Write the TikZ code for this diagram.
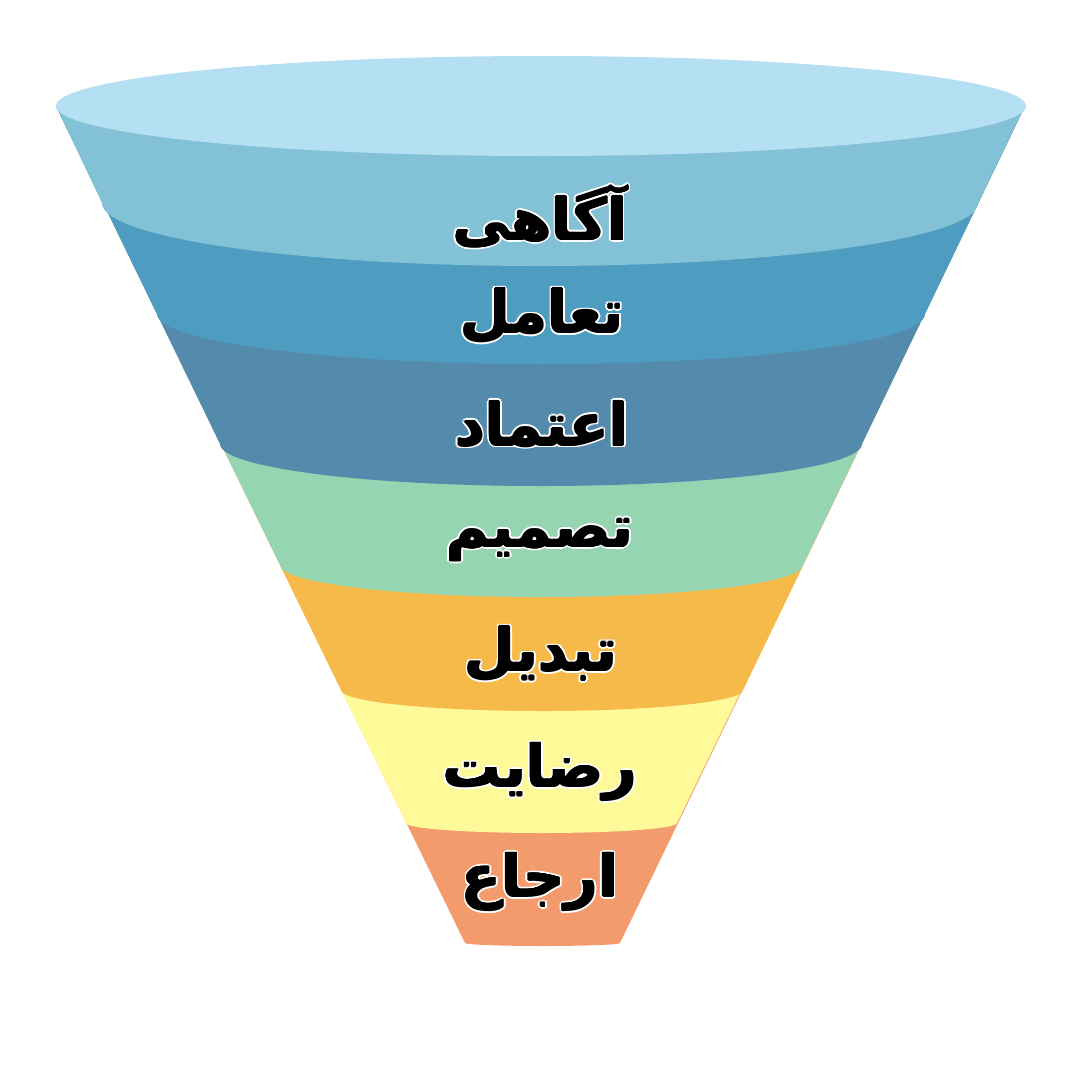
\documentclass[tikz,border=0pt]{standalone}
\usepackage{fontspec}
\newfontfamily\arabicfont[Script=Arabic]{DejaVu Sans}
\TeXXeTstate=1

\definecolor{cima}{HTML}{B5DFF2}
\definecolor{banda1}{HTML}{82C1D6}
\definecolor{banda2}{HTML}{4E9DC0}
\definecolor{banda3}{HTML}{548BAD}
\definecolor{banda4}{HTML}{95D5B1}
\definecolor{banda5}{HTML}{F5BA4A}
\definecolor{banda6}{HTML}{FEFA9A}
\definecolor{banda7}{HTML}{F39B6D}

% Texto negro con borde blanco
\newsavebox\etiqbox
\newcommand{\halo}[3]{\rlap{\hspace*{#1}\raisebox{#2}{\textcolor{#3}{\usebox\etiqbox}}}}
\newcommand{\etiqueta}[1]{%
  \setbox\etiqbox\hbox{\arabicfont\bfseries\fontsize{58}{68}\selectfont\beginR #1\endR}%
  \halo{2.6pt}{0pt}{white}\halo{-2.6pt}{0pt}{white}\halo{0pt}{2.6pt}{white}\halo{0pt}{-2.6pt}{white}%
  \halo{1.9pt}{1.9pt}{white}\halo{-1.9pt}{1.9pt}{white}\halo{1.9pt}{-1.9pt}{white}\halo{-1.9pt}{-1.9pt}{white}%
  \halo{0.8pt}{0pt}{black}\halo{-0.8pt}{0pt}{black}\halo{0pt}{0.8pt}{black}\halo{0pt}{-0.8pt}{black}%
  \textcolor{black}{\usebox\etiqbox}}

\begin{document}
\begin{tikzpicture}[x=1pt, y=-1pt]
    \useasboundingbox (0,0) rectangle (1080,1080);

    % Bandas (de abajo hacia arriba)
    \foreach \lx/\rx/\yy/\dip/\col in {465/620/943/3/banda7, 406/677/823/10/banda6,
        341/743/690/21/banda5, 280/803/565/32/banda4, 220/862/444/42/banda3,
        157/925/314/50/banda2, 102/978/203/63/banda1}{
        \fill[\col] (56,106) -- (\lx,\yy)
            arc[start angle=180, end angle=360, x radius={(\rx-\lx)/2*1pt}, y radius=\dip pt]
            -- (1025,106) -- cycle;
    }

    % Boca del embudo
    \fill[cima] (541,106) ellipse[x radius=485pt, y radius=50pt];

    % Etiquetas
    \node[inner sep=0] (agahi) at (540,216) {\etiqueta{آگاهی}};
    \node[inner sep=0] (taamol) at (542,316) {\etiqueta{تعامل}};
    \node[inner sep=0] (etemad) at (542,424) {\etiqueta{اعتماد}};
    \node[inner sep=0] (tasmim) at (540,540) {\etiqueta{تصمیم}};
    \node[inner sep=0] (tabdil) at (541,654) {\etiqueta{تبدیل}};
    \node[inner sep=0] (rezayat) at (540,772) {\etiqueta{رضایت}};
    \node[inner sep=0] (erja) at (540,882) {\etiqueta{ارجاع}};
\end{tikzpicture}
\end{document}
